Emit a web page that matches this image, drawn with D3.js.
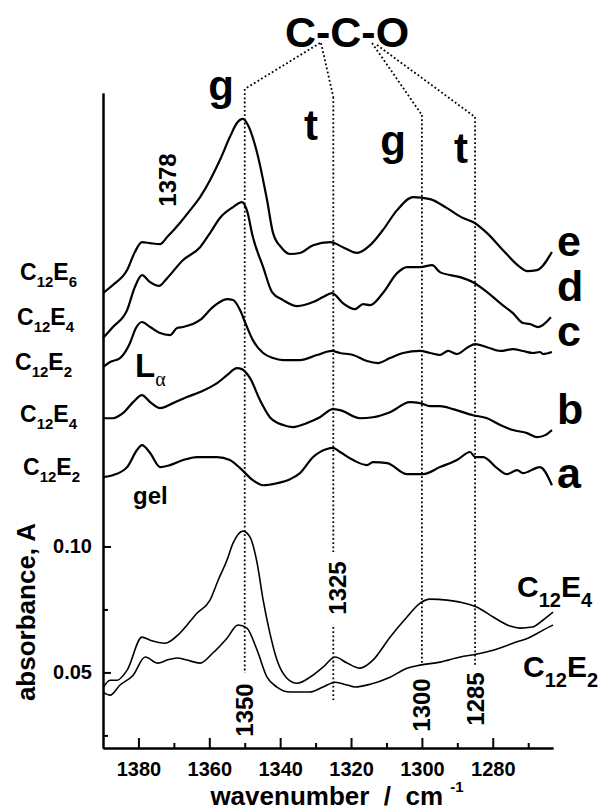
<!DOCTYPE html>
<html>
<head>
<meta charset="utf-8">
<script src="https://cdn.jsdelivr.net/npm/d3@7"></script>
<style>
  body { margin: 0; background: #fff; }
  svg text { font-family: "Liberation Sans", Arial, sans-serif; font-weight: bold; fill: #000; }
</style>
</head>
<body>
<div id="chart"></div>
<script>
// spectra: [wavenumber / cm-1, absorbance]
const specE = [[1390.0,0.2006],[1387.2,0.2038],[1383.2,0.2097],[1381.0,0.2169],[1379.0,0.2208],[1376.7,0.2204],[1373.9,0.2200],[1371.9,0.2228],[1368.3,0.2284],[1365.4,0.2335],[1362.6,0.2387],[1359.8,0.2454],[1357.0,0.2534],[1354.2,0.2625],[1352.2,0.2681],[1350.5,0.2697],[1349.1,0.2673],[1346.5,0.2562],[1343.7,0.2375],[1342.0,0.2244],[1339.5,0.2184],[1337.2,0.2161],[1334.4,0.2165],[1330.7,0.2196],[1325.9,0.2208],[1322.3,0.2188],[1318.3,0.2165],[1314.6,0.2196],[1311.0,0.2256],[1307.0,0.2335],[1302.5,0.2387],[1297.7,0.2379],[1292.9,0.2343],[1288.4,0.2304],[1285.6,0.2288],[1281.6,0.2244],[1277.1,0.2176],[1272.3,0.2109],[1270.3,0.2093],[1267.5,0.2097],[1263.3,0.2169]]
const specD = [[1390.0,0.1827],[1387.2,0.1871],[1383.2,0.1938],[1381.0,0.2030],[1379.0,0.2077],[1376.7,0.2049],[1374.2,0.2034],[1371.9,0.2065],[1367.4,0.2137],[1362.6,0.2188],[1359.8,0.2244],[1357.0,0.2304],[1353.3,0.2347],[1350.8,0.2367],[1349.4,0.2335],[1347.7,0.2228],[1344.8,0.2109],[1342.3,0.2010],[1339.2,0.1978],[1335.2,0.1954],[1330.7,0.1970],[1327.9,0.1990],[1325.4,0.2006],[1322.3,0.1966],[1318.9,0.1942],[1316.6,0.1962],[1314.6,0.1958],[1311.0,0.2006],[1307.0,0.2085],[1304.2,0.2109],[1300.5,0.2109],[1297.1,0.2117],[1294.9,0.2089],[1289.2,0.2069],[1285.6,0.2049],[1281.6,0.2010],[1277.9,0.1966],[1274.3,0.1926],[1271.5,0.1887],[1269.5,0.1883],[1267.2,0.1871],[1263.6,0.1910]]
const specC = [[1390.0,0.1712],[1388.0,0.1732],[1385.2,0.1748],[1382.4,0.1807],[1380.7,0.1867],[1379.0,0.1891],[1376.7,0.1871],[1373.9,0.1847],[1371.1,0.1839],[1369.1,0.1867],[1367.4,0.1871],[1362.6,0.1899],[1359.0,0.1950],[1355.0,0.1982],[1353.3,0.1978],[1351.3,0.1938],[1349.6,0.1879],[1347.7,0.1819],[1344.8,0.1768],[1342.0,0.1748],[1339.2,0.1740],[1334.4,0.1740],[1329.6,0.1760],[1325.4,0.1776],[1323.1,0.1768],[1319.4,0.1760],[1315.5,0.1736],[1312.4,0.1728],[1309.0,0.1748],[1305.3,0.1768],[1300.5,0.1776],[1297.7,0.1768],[1294.9,0.1760],[1292.6,0.1776],[1290.1,0.1764],[1287.0,0.1791],[1285.0,0.1803],[1281.6,0.1791],[1277.9,0.1776],[1274.3,0.1783],[1271.5,0.1776],[1268.6,0.1768],[1266.7,0.1772],[1265.8,0.1764],[1263.3,0.1772]]
const specB = [[1390.0,0.1509],[1387.2,0.1509],[1384.4,0.1529],[1381.5,0.1573],[1379.0,0.1601],[1376.7,0.1573],[1373.9,0.1549],[1370.2,0.1569],[1366.3,0.1593],[1362.6,0.1613],[1357.8,0.1648],[1355.0,0.1680],[1352.2,0.1708],[1350.8,0.1704],[1348.5,0.1668],[1345.7,0.1581],[1342.9,0.1513],[1339.2,0.1482],[1336.4,0.1474],[1332.4,0.1490],[1328.8,0.1513],[1325.1,0.1545],[1323.1,0.1541],[1317.5,0.1509],[1313.8,0.1513],[1309.0,0.1533],[1303.4,0.1573],[1300.5,0.1569],[1297.7,0.1557],[1294.9,0.1557],[1291.2,0.1545],[1285.6,0.1521],[1281.6,0.1509],[1277.9,0.1482],[1274.3,0.1462],[1270.3,0.1450],[1267.5,0.1434],[1265.2,0.1442],[1263.3,0.1462]]
const specA = [[1390.0,0.1275],[1387.2,0.1283],[1383.2,0.1315],[1380.4,0.1383],[1379.0,0.1402],[1376.7,0.1371],[1373.9,0.1315],[1371.1,0.1323],[1367.4,0.1343],[1363.5,0.1355],[1357.8,0.1355],[1354.2,0.1343],[1351.3,0.1311],[1347.7,0.1263],[1344.8,0.1243],[1340.9,0.1251],[1337.2,0.1267],[1334.4,0.1291],[1330.7,0.1355],[1326.8,0.1387],[1325.1,0.1391],[1323.1,0.1375],[1319.4,0.1343],[1315.5,0.1323],[1313.8,0.1335],[1309.8,0.1331],[1304.2,0.1287],[1299.7,0.1287],[1294.9,0.1315],[1290.1,0.1343],[1286.4,0.1375],[1285.0,0.1355],[1282.7,0.1355],[1278.8,0.1311],[1276.0,0.1287],[1273.1,0.1303],[1271.5,0.1291],[1266.7,0.1315],[1263.3,0.1243]]
const specE4 = [[1390.0,0.0438],[1388.0,0.0469],[1386.0,0.0469],[1383.2,0.0509],[1379.0,0.0640],[1376.7,0.0628],[1372.5,0.0616],[1368.3,0.0656],[1363.5,0.0735],[1359.8,0.0787],[1357.5,0.0866],[1355.0,0.0946],[1353.3,0.1013],[1350.5,0.1061],[1348.5,0.1037],[1346.5,0.0934],[1344.8,0.0787],[1342.9,0.0656],[1340.9,0.0549],[1338.1,0.0477],[1335.2,0.0457],[1331.6,0.0481],[1327.9,0.0521],[1324.5,0.0561],[1321.1,0.0537],[1317.5,0.0517],[1313.8,0.0549],[1309.0,0.0640],[1304.2,0.0720],[1300.5,0.0775],[1297.7,0.0791],[1292.9,0.0787],[1289.2,0.0779],[1284.4,0.0759],[1279.9,0.0720],[1275.1,0.0684],[1272.3,0.0676],[1268.9,0.0680],[1265.8,0.0708],[1263.0,0.0739]]
const specE2 = [[1390.0,0.0422],[1388.0,0.0410],[1385.2,0.0450],[1381.5,0.0489],[1378.1,0.0561],[1374.5,0.0537],[1371.9,0.0549],[1369.1,0.0557],[1366.3,0.0549],[1362.6,0.0537],[1359.0,0.0577],[1355.0,0.0636],[1351.9,0.0688],[1349.4,0.0676],[1346.5,0.0588],[1343.7,0.0481],[1340.9,0.0442],[1337.2,0.0422],[1331.6,0.0422],[1327.9,0.0442],[1324.5,0.0461],[1321.1,0.0450],[1318.9,0.0442],[1314.6,0.0453],[1309.0,0.0481],[1304.2,0.0517],[1300.5,0.0529],[1294.9,0.0541],[1289.2,0.0561],[1284.4,0.0573],[1279.9,0.0588],[1274.3,0.0616],[1269.5,0.0640],[1265.8,0.0668],[1263.0,0.0688]]

const xTicks = [1380, 1360, 1340, 1320, 1300, 1280]
const xMinorTicks = [1370, 1350, 1330, 1310, 1290, 1270]
const yTicks = [0.05, 0.10]
const yMinorTicks = [0.025, 0.075]
const bandPositions = [1350, 1325, 1300, 1285]
const bandConformers = ['g', 't', 'g', 't']
const seriesLetters = ['e', 'd', 'c', 'b', 'a']
const seriesSurfactants = ['6', '4', '2', '4', '2']

const width = 600
const height = 811
const plot = {left: 103, right: 553, top: 93, bottom: 748}

const svg = d3
  .select('#chart')
  .append('svg')
  .attr('width', width)
  .attr('height', height)

const xScale = d3.scaleLinear().domain([1390, 1263]).range([plot.left, plot.right])
const yScale = d3.scaleLinear().domain([0.02, 0.28]).range([plot.bottom, plot.top])

// axes, ticks point inwards
const styleAxis = g => {
  g.selectAll('path, line').attr('stroke', '#000').attr('stroke-width', 2)
  g.selectAll('text').attr('font-size', '20px').attr('fill', '#000')
}

svg
  .append('g')
  .attr('transform', `translate(0, ${plot.bottom})`)
  .call(d3.axisBottom(xScale).tickValues(xTicks).tickSize(-10).tickSizeOuter(0).tickPadding(14).tickFormat(d3.format('d')))
  .call(styleAxis)

svg
  .append('g')
  .attr('transform', `translate(0, ${plot.bottom})`)
  .call(d3.axisBottom(xScale).tickValues(xMinorTicks).tickSize(-5).tickSizeOuter(0).tickFormat(''))
  .call(styleAxis)

svg
  .append('g')
  .attr('transform', `translate(${plot.left}, 0)`)
  .call(d3.axisLeft(yScale).tickValues(yTicks).tickSize(-8).tickSizeOuter(0).tickPadding(11).tickFormat(d3.format('.2f')))
  .call(styleAxis)

svg
  .append('g')
  .attr('transform', `translate(${plot.left}, 0)`)
  .call(d3.axisLeft(yScale).tickValues(yMinorTicks).tickSize(-5).tickSizeOuter(0).tickFormat(''))
  .call(styleAxis)

// axis titles
const xTitle = svg
  .append('text')
  .attr('x', 337)
  .attr('y', 805)
  .attr('font-size', '26px')
  .style('text-anchor', 'middle')
  .style('white-space', 'pre')
xTitle.append('tspan').text('wavenumber  /  cm ')
xTitle.append('tspan').attr('font-size', '15px').attr('dy', -13).text('-1')

svg
  .append('text')
  .attr('transform', 'translate(35, 612) rotate(-90)')
  .attr('font-size', '26px')
  .style('text-anchor', 'middle')
  .text('absorbance, A')

// band guide lines (dotted) and their connectors to C-C-O
const dotted = sel => sel.attr('stroke', '#000').attr('stroke-width', 1.8).attr('stroke-dasharray', '1.8,2.4').attr('fill', 'none')

const bandLayout = [
  {top: 89, segments: [[89, 673]], from: [320, 43], label: 710},
  {top: 97, segments: [[97, 552], [627, 700]], from: [321, 43], label: 588},
  {top: 115, segments: [[115, 665]], from: [372, 43], label: 705},
  {top: 117, segments: [[117, 665]], from: [377, 45], label: 699},
]
const bandLabelPos = [[221, 100], [311, 140], [393, 155], [461, 163]]

bandPositions.forEach((wn, i) => {
  const lay = bandLayout[i]
  const bx = xScale(wn)
  lay.segments.forEach(([y0, y1]) => {
    svg.append('line').attr('x1', bx).attr('x2', bx).attr('y1', y0).attr('y2', y1).call(dotted)
  })
  svg.append('line').attr('x1', lay.from[0]).attr('y1', lay.from[1]).attr('x2', bx).attr('y2', lay.top).call(dotted)
  svg
    .append('text')
    .attr('transform', `translate(${bx + (i === 1 ? 4 : 0)}, ${lay.label}) rotate(-90)`)
    .attr('font-size', '24px')
    .attr('dominant-baseline', 'central')
    .style('text-anchor', 'middle')
    .text(wn)
  svg
    .append('text')
    .attr('x', bandLabelPos[i][0])
    .attr('y', bandLabelPos[i][1])
    .attr('font-size', '42px')
    .style('text-anchor', 'middle')
    .text(bandConformers[i])
})

svg
  .append('text')
  .attr('x', 347)
  .attr('y', 47)
  .attr('font-size', '43px')
  .style('text-anchor', 'middle')
  .text('C-C-O')

svg
  .append('text')
  .attr('transform', 'translate(167, 180) rotate(-90)')
  .attr('font-size', '24px')
  .attr('dominant-baseline', 'central')
  .style('text-anchor', 'middle')
  .text('1378')

// spectra
const line = d3
  .line()
  .x(d => xScale(d[0]))
  .y(d => yScale(d[1]))
  .curve(d3.curveMonotoneX)

const stacked = [specE, specD, specC, specB, specA]
svg
  .selectAll('path.spec')
  .data(stacked)
  .enter()
  .append('path')
  .attr('class', 'spec')
  .attr('d', line)
  .attr('fill', 'none')
  .attr('stroke', '#000')
  .attr('stroke-width', 2.2)
  .attr('stroke-linejoin', 'round')

svg
  .selectAll('path.raw')
  .data([specE4, specE2])
  .enter()
  .append('path')
  .attr('class', 'raw')
  .attr('d', line)
  .attr('fill', 'none')
  .attr('stroke', '#000')
  .attr('stroke-width', 1.6)
  .attr('stroke-linejoin', 'round')

// series letters on the right
const letterBaselines = [256, 301, 346, 424, 488]
seriesLetters.forEach((l, i) => {
  svg
    .append('text')
    .attr('x', 557)
    .attr('y', letterBaselines[i])
    .attr('font-size', '43px')
    .text(l)
})

// C12En labels
const formula = (x, y, n, big, small, shift) => {
  const t = svg.append('text').attr('x', x).attr('y', y).attr('font-size', `${big}px`)
  t.append('tspan').text('C')
  t.append('tspan').attr('font-size', `${small}px`).attr('dy', shift).text('12')
  t.append('tspan').attr('dy', -shift).text('E')
  t.append('tspan').attr('font-size', `${small}px`).attr('dy', shift).text(n)
}

const leftLabelPos = [[20, 280], [17, 325], [15, 370], [20, 422], [23, 475]]
seriesSurfactants.forEach((n, i) => {
  formula(leftLabelPos[i][0], leftLabelPos[i][1], n, 23, 15, 7)
})

formula(517, 597, '4', 30, 20, 10)
formula(523, 677, '2', 30, 20, 10)

// phase labels
const la = svg.append('text').attr('x', 135).attr('y', 377).attr('font-size', '33px')
la.append('tspan').text('L')
la.append('tspan')
  .attr('dy', 9)
  .attr('font-size', '20px')
  .style('font-family', '"Liberation Serif", serif')
  .style('font-weight', 'normal')
  .text('α')

svg
  .append('text')
  .attr('x', 133)
  .attr('y', 504)
  .attr('font-size', '24px')
  .text('gel')
</script>
</body>
</html>
